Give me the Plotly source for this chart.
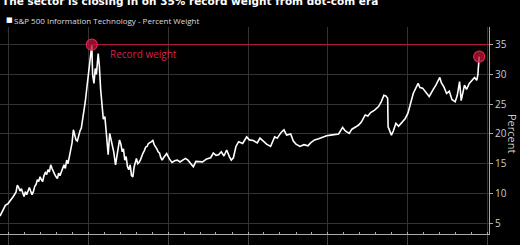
import plotly.graph_objects as go

dates = [
 "1994-07-01","1994-09-01","1994-11-01","1995-01-01","1995-03-01","1995-05-01","1995-07-01","1995-08-01","1995-09-01","1995-10-01",
 "1995-11-01","1995-12-01","1996-01-01","1996-02-01","1996-03-01","1996-05-01","1996-06-01","1996-07-01","1996-08-01","1996-09-01",
 "1996-10-01","1996-11-01","1996-12-01","1997-01-01","1997-02-01","1997-03-01","1997-04-01","1997-05-01","1997-06-01","1997-07-01",
 "1997-08-01","1997-09-01","1997-10-01","1997-11-01","1997-12-01","1998-01-01","1998-02-01","1998-03-01","1998-04-01","1998-05-01",
 "1998-06-01","1998-07-01","1998-08-01","1998-09-01","1998-10-01","1998-11-01","1998-12-01","1999-01-01","1999-02-01","1999-03-01",
 "1999-04-01","1999-05-01","1999-06-01","1999-07-01","1999-08-01","1999-09-01","1999-10-01","1999-11-01","1999-12-01","2000-01-01",
 "2000-02-01","2000-03-27","2000-04-15","2000-05-15","2000-06-15","2000-07-10","2000-08-20","2000-09-15","2000-10-15","2000-11-15",
 "2000-12-15","2001-01-20","2001-02-15","2001-03-10","2001-04-05","2001-05-10","2001-06-10","2001-07-10","2001-08-10","2001-09-20",
 "2001-10-20","2001-12-20","2002-01-20","2002-02-20","2002-03-20","2002-04-20","2002-05-20","2002-06-20","2002-07-20","2002-08-20",
 "2002-09-20","2002-10-20","2002-11-20","2003-01-10","2003-02-10","2003-03-10","2003-04-10","2003-05-10","2003-06-10","2003-07-10",
 "2003-08-10","2003-09-10","2003-10-10","2003-12-20","2004-01-20","2004-02-20","2004-03-20","2004-04-20","2004-05-20","2004-06-20",
 "2004-07-20","2004-08-20","2004-09-20","2004-10-20","2004-12-01","2005-02-01","2005-04-01","2005-06-01","2005-08-01","2005-10-01",
 "2005-12-01","2006-02-01","2006-04-01","2006-06-01","2006-08-01","2006-10-01","2006-12-01","2007-03-01","2007-06-01","2007-09-01",
 "2007-11-01","2008-01-01","2008-03-01","2008-05-01","2008-07-01","2008-09-01","2008-11-01","2008-12-15","2009-02-01","2009-04-01",
 "2009-06-01","2009-09-01","2009-12-01","2010-02-01","2010-05-01","2010-08-01","2010-10-01","2010-12-01","2011-03-01","2011-06-01",
 "2011-08-01","2011-09-01","2011-11-01","2012-02-01","2012-04-01","2012-06-01","2012-09-01","2012-11-01","2013-01-01","2013-04-01",
 "2013-07-01","2013-10-01","2013-12-01","2014-03-01","2014-06-01","2014-09-01","2014-12-01","2015-03-01","2015-06-01","2015-09-01",
 "2015-12-01","2016-02-01","2016-05-01","2016-07-01","2016-10-01","2016-12-01","2017-02-01","2017-05-01","2017-07-01","2017-09-01",
 "2017-12-01","2018-03-01","2018-05-01","2018-07-01","2018-08-15","2018-09-25","2018-10-05","2018-12-20","2019-02-01","2019-04-01",
 "2019-06-01","2019-09-01","2019-11-01","2020-01-01","2020-03-01","2020-05-01","2020-08-20","2020-10-01","2020-12-01","2021-03-01",
 "2021-05-01","2021-08-01","2021-10-01","2021-12-28","2022-02-01","2022-04-01","2022-06-01","2022-08-01","2022-10-01","2022-12-15",
 "2023-02-01","2023-03-25","2023-05-01","2023-07-15","2023-09-01","2023-11-01","2024-01-15","2024-03-01","2024-04-20","2024-05-15",
 "2024-06-15",
]
weight = [
 6.2, 7.0, 8.0, 8.3, 8.8, 9.5, 10.2, 11.4, 11.0, 10.4,
 10.8, 10.2, 9.5, 10.3, 9.8, 11.0, 10.4, 9.8, 10.3, 11.2,
 11.5, 12.3, 12.0, 12.8, 12.3, 12.0, 13.0, 13.5, 13.2, 14.0,
 13.6, 14.8, 14.2, 13.5, 13.2, 12.8, 12.5, 13.4, 13.0, 13.6,
 14.2, 14.8, 14.2, 15.6, 15.0, 16.0, 17.5, 18.5, 20.7, 20.0,
 19.0, 18.8, 19.8, 20.5, 21.0, 22.3, 23.5, 25.5, 27.5, 29.5,
 31.5, 34.9, 30.0, 28.5, 31.0, 30.0, 33.5, 31.5, 27.5, 25.0,
 22.5, 22.9, 20.5, 18.0, 16.5, 20.1, 19.0, 18.2, 17.0, 14.8,
 16.5, 19.0, 18.3, 17.0, 17.5, 15.6, 16.2, 14.5, 14.0, 14.8,
 13.0, 12.8, 14.5, 15.9, 15.0, 15.2, 15.6, 16.3, 16.8, 17.2,
 17.8, 17.9, 18.4, 18.7, 18.9, 18.2, 17.9, 17.5, 17.0, 16.8,
 16.0, 15.6, 16.0, 16.3, 16.7, 15.8, 15.2, 15.5, 15.6, 15.3,
 15.6, 15.9, 15.6, 15.0, 14.5, 15.4, 15.4, 15.3, 15.8, 16.0,
 16.8, 16.4, 16.5, 17.0, 16.3, 17.3, 16.2, 15.6, 16.0, 17.9,
 18.7, 18.4, 19.5, 19.0, 18.9, 18.5, 19.3, 18.9, 18.3, 17.9,
 18.8, 19.5, 19.3, 20.3, 20.7, 19.8, 20.0, 18.8, 18.3, 17.9,
 18.2, 18.0, 18.5, 19.0, 19.2, 19.5, 19.7, 19.8, 19.9, 20.0,
 21.1, 20.5, 20.1, 20.8, 21.2, 21.5, 22.0, 23.2, 23.0, 23.6,
 24.0, 24.6, 25.4, 26.5, 26.4, 26.0, 21.2, 19.8, 20.5, 21.8,
 21.3, 22.0, 22.6, 23.5, 25.4, 26.8, 28.5, 27.8, 27.7, 26.8,
 26.3, 27.5, 28.2, 29.5, 28.6, 27.9, 26.8, 27.2, 25.8, 25.4,
 26.5, 28.8, 25.6, 28.2, 27.5, 28.5, 29.1, 29.5, 29.0, 29.9,
 33.0,
]

series_name = "S&P 500 Information Technology - Percent Weight"
title_text = "The sector is closing in on 35% record weight from dot-com era"
record_value = 35.0
record_date = "2000-03-27"
latest_date = "2024-06-15"
latest_value = 33.0
y_ticks = [5, 10, 15, 20, 25, 30, 35]
x_grid = ["1995-01-01", "2000-01-01", "2005-01-01", "2010-01-01", "2015-01-01", "2020-01-01", "2025-01-01"]

RED = "#c8163f"
fig = go.Figure()
fig.add_trace(go.Scatter(x=[record_date, "2025-02-01"], y=[record_value, record_value], mode="lines",
                         line=dict(color=RED, width=1), hoverinfo="skip", showlegend=False))
fig.add_trace(go.Scatter(x=dates, y=weight, mode="lines", name=series_name,
                         line=dict(color="#ffffff", width=1.6), showlegend=False))
fig.add_trace(go.Scatter(x=[record_date, latest_date], y=[record_value, latest_value], mode="markers",
                         marker=dict(size=11, color="rgba(190,20,55,0.75)", line=dict(color="#e0204f", width=1.2)),
                         showlegend=False, hoverinfo="skip"))

fig.add_annotation(x=0, xref="paper", y=1, yref="paper", yanchor="bottom", xanchor="left", yshift=18,
                   text="<b>" + title_text + "</b>", showarrow=False,
                   font=dict(family="DejaVu Sans", size=10.5, color="#ffffff"))
fig.add_annotation(x=0.008, xref="paper", y=1, yref="paper", yanchor="middle", xanchor="left", yshift=7,
                   text="■", showarrow=False, font=dict(family="DejaVu Sans", size=7, color="#ffffff"))
fig.add_annotation(x=0.025, xref="paper", y=1, yref="paper", yanchor="middle", xanchor="left", yshift=7,
                   text=series_name, showarrow=False, font=dict(family="Open Sans", size=8, color="#dddddd"))
fig.add_annotation(x=record_date, y=record_value, xanchor="left", yanchor="middle", xshift=16, yshift=-9,
                   text="Record weight", showarrow=False, font=dict(family="Open Sans", size=10, color="#d8204c"))
fig.add_annotation(x=1, xref="paper", y=0.5, yref="paper", xanchor="left", yanchor="middle", xshift=14, yshift=-3,
                   text="Percent", textangle=90, showarrow=False, font=dict(family="Open Sans", size=11, color="#cccccc"))

fig.update_layout(
    width=520, height=245, margin=dict(l=0, r=31, t=27, b=11),
    paper_bgcolor="#000000", plot_bgcolor="#000000",
    xaxis=dict(type="date", range=["1994-07-01", "2025-01-25"], tickvals=x_grid, showticklabels=False,
               showgrid=True, gridcolor="#333333", gridwidth=1, zeroline=False,
               showline=True, linecolor="#aaaaaa", linewidth=1,
               ticks="outside", ticklen=11, tickcolor="#444444",
               minor=dict(dtick="M12", tick0="1995-01-01", ticks="inside", ticklen=2, tickcolor="#aaaaaa", showgrid=False)),
    yaxis=dict(side="right", range=[3.19, 37.97], tickvals=y_ticks, showgrid=True, gridcolor="#333333",
               zeroline=False, showline=True, linecolor="#aaaaaa", linewidth=1,
               ticks="outside", ticklen=3, tickcolor="#aaaaaa",
               tickfont=dict(family="Open Sans", size=10, color="#cccccc")),
    hovermode=False,
)
fig.write_html("out.html")
